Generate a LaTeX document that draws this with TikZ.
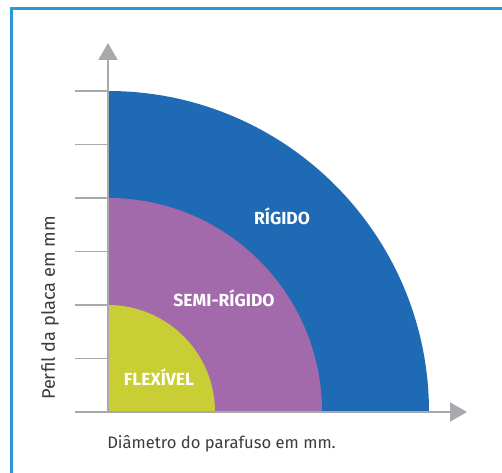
\documentclass[tikz,border=0pt]{standalone}
\usepackage{fontspec}
\setmainfont{Fira Sans}
\usetikzlibrary{arrows.meta}
\definecolor{frameblue}{HTML}{2A9AD6}
\definecolor{rigblue}{HTML}{1F6AB4}
\definecolor{semipurple}{HTML}{A36AAB}
\definecolor{flexgreen}{HTML}{C8CE33}
\definecolor{axisgray}{HTML}{A8A9AC}
\definecolor{textgray}{HTML}{3C3C3C}
\begin{document}
\begin{tikzpicture}[x=1pt,y=1pt,
  axisline/.style={draw=axisgray,line width=2pt},
  tickline/.style={draw=axisgray,line width=1.8pt},
  zonelabel/.style={text=white,font=\fontsize{17.5}{20}\selectfont\bfseries,inner sep=0pt},
  axislabel/.style={text=textgray,font=\fontsize{16.6}{20}\selectfont,inner sep=0pt}]
\useasboundingbox (0,0) rectangle (502,472);
\fill[white] (0,0) rectangle (502,472);
\draw[frameblue,line width=3pt] (11.5,-20) -- (11.5,463.5) -- (530,463.5);
\coordinate (O) at (108,60);
% sectors
\fill[rigblue] (O) -- ++(0,321) arc[start angle=90,end angle=0,radius=321] -- cycle;
\fill[semipurple] (O) -- ++(0,214) arc[start angle=90,end angle=0,radius=214] -- cycle;
\fill[flexgreen] (O) -- ++(0,107) arc[start angle=90,end angle=0,radius=107] -- cycle;
% ticks
\foreach \k in {0,...,6}{
  \draw[tickline] (75,60+\k*53.5) -- (108,60+\k*53.5);
}
% axes
\coordinate (ytip) at (108,429);
\coordinate (xtip) at (467,60);
\draw[axisline,-{Triangle[length=17pt,width=19pt]},color=axisgray] (O) -- (ytip);
\draw[axisline,-{Triangle[length=17pt,width=19pt]},color=axisgray] (O) -- (xtip);
% labels
\node[zonelabel] (rig) at (282,256) {RÍGIDO};
\node[zonelabel] (semi) at (224,174) {SEMI-RÍGIDO};
\node[zonelabel] (flex) at (159,95) {FLEXÍVEL};
\node[axislabel] (xl) at (221.5,28) {Diâmetro do parafuso em mm.};
\node[axislabel,font=\fontsize{18.2}{20}\selectfont,rotate=90] (yl) at (50,164) {Perfil da placa em mm};
\end{tikzpicture}
\end{document}
